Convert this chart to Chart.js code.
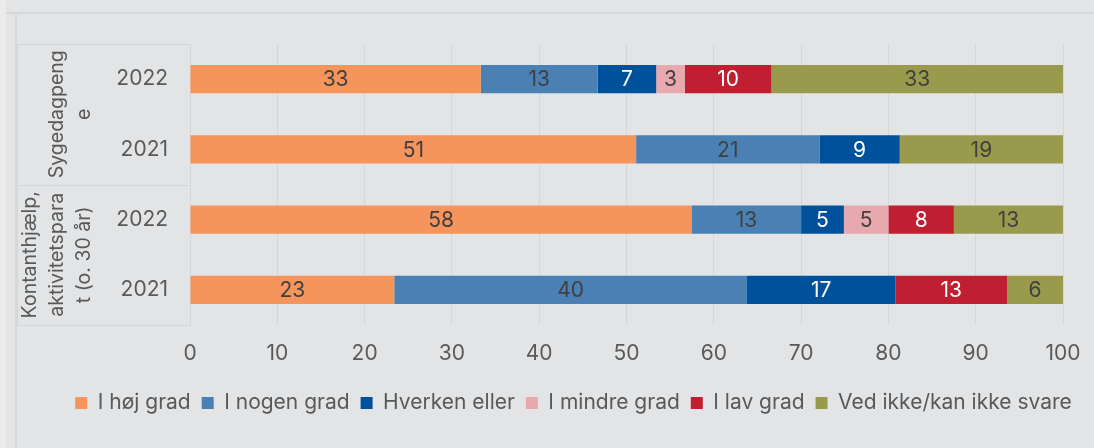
<!DOCTYPE html>
<html><head><meta charset="utf-8">
<script src="https://cdn.jsdelivr.net/npm/chart.js@4/dist/chart.umd.min.js"></script>
<style>
html,body{margin:0;padding:0;background:#e3e4e6;}
#wrap{position:relative;width:1094px;height:448px;overflow:hidden;}
canvas{position:absolute;left:0;top:0;}
</style></head><body>
<div id="wrap"><canvas id="c" width="1094" height="448"></canvas></div>
<script>
// ---- data ----
const categories = ['2022', '2021', '2022', '2021'];
const groupLabels = [['Sygedagpeng', 'e'], ['Kontanthjælp,', 'aktivitetspara', 't (o. 30 år)']];
const groupSizes = [2, 2];
const seriesNames = ['I høj grad', 'I nogen grad', 'Hverken eller', 'I mindre grad', 'I lav grad', 'Ved ikke/kan ikke svare'];
const hojGrad    = [33.3, 51.1, 57.5, 23.4];
const nogenGrad  = [13.4, 21.0, 12.5, 40.4];
const hverken    = [6.7, 9.2, 4.9, 17.0];
const mindreGrad = [3.3, null, 5.1, null];
const lavGrad    = [9.9, null, 7.5, 12.8];
const vedIkke    = [33.4, 18.7, 12.5, 6.4];
const xTicks = [0, 10, 20, 30, 40, 50, 60, 70, 80, 90, 100];

const seriesValues = [hojGrad, nogenGrad, hverken, mindreGrad, lavGrad, vedIkke];
const seriesColors = ['#F5945B', '#4A80B3', '#00519B', '#E7A8AE', '#C01F31', '#9A9A4D'];
const labelColors  = ['#404040', '#404040', '#ffffff', '#404040', '#ffffff', '#404040'];

const FONT = 'Inter';
const TXT = '#595959';
const FS = 21;
const LEGEND_CENTER_X = 573.5;

const framePlugin = {
  id: 'frame',
  beforeDraw(chart) {
    const ctx = chart.ctx;
    ctx.save();
    ctx.fillStyle = '#ebebec';
    ctx.fillRect(0, 0, 6, 448);
    ctx.fillStyle = '#d7d8da';
    ctx.fillRect(6, 12, 1088, 2);
    ctx.fillRect(15, 12, 2, 436);
    ctx.restore();
  },
  afterLayout(chart) {
    const lg = chart.legend;
    if (!lg) return;
    const d = LEGEND_CENTER_X - (lg.left + lg.right) / 2;
    lg.left += d; lg.right += d;
  }
};

const groupPlugin = {
  id: 'groups',
  afterDraw(chart) {
    const ctx = chart.ctx, y = chart.scales.y, ca = chart.chartArea;
    const step = y.getPixelForValue(1) - y.getPixelForValue(0);
    ctx.save();
    ctx.strokeStyle = '#d5d6d8';
    ctx.lineWidth = 1;
    let idx = 0;
    const left = 17.5;
    groupLabels.forEach((lines, g) => {
      const first = idx, last = idx + groupSizes[g] - 1;
      const top = y.getPixelForValue(first) - step / 2;
      const bot = y.getPixelForValue(last) + step / 2;
      ctx.beginPath();
      ctx.moveTo(left, Math.round(top) + 0.5); ctx.lineTo(ca.left, Math.round(top) + 0.5);
      ctx.moveTo(left, Math.round(bot) + 0.5); ctx.lineTo(ca.left, Math.round(bot) + 0.5);
      ctx.moveTo(left, top); ctx.lineTo(left, bot);
      ctx.stroke();
      const cy = (top + bot) / 2;
      ctx.fillStyle = TXT;
      ctx.font = '19.5px ' + FONT;
      ctx.textAlign = 'center';
      ctx.textBaseline = 'middle';
      const lastX = 84.5, lh = 27;
      lines.forEach((t, i) => {
        const x = lastX - (lines.length - 1 - i) * lh;
        ctx.save();
        ctx.translate(x, cy);
        ctx.rotate(-Math.PI / 2);
        ctx.fillText(t, 0, 0);
        ctx.restore();
      });
      idx += groupSizes[g];
    });
    ctx.restore();
  }
};

const valueLabelPlugin = {
  id: 'valueLabels',
  afterDatasetsDraw(chart) {
    const ctx = chart.ctx;
    ctx.save();
    ctx.font = FS + 'px ' + FONT;
    ctx.textAlign = 'center';
    ctx.textBaseline = 'middle';
    chart.data.datasets.forEach((ds, di) => {
      const meta = chart.getDatasetMeta(di);
      meta.data.forEach((el, i) => {
        const v = ds.data[i];
        if (v === null || v === undefined || v <= 0) return;
        ctx.fillStyle = labelColors[di];
        ctx.fillText(String(Math.round(v)), (el.x + el.base) / 2, el.y + 1);
      });
    });
    ctx.restore();
  }
};

new Chart(document.getElementById('c'), {
  type: 'bar',
  data: {
    labels: categories,
    datasets: seriesNames.map((n, i) => ({
      label: n,
      data: seriesValues[i],
      backgroundColor: seriesColors[i],
      borderWidth: 0,
      categoryPercentage: 1,
      barPercentage: 0.4
    }))
  },
  options: {
    indexAxis: 'y',
    responsive: false,
    animation: false,
    layout: { padding: { top: 44, right: 31, bottom: 24.5, left: 0 } },
    plugins: {
      tooltip: { enabled: false },
      legend: {
        position: 'bottom',
        labels: {
          boxWidth: 12, boxHeight: 12, padding: 11,
          color: TXT, font: { family: FONT, size: FS }
        }
      }
    },
    scales: {
      x: {
        stacked: true, min: 0, max: 100,
        afterBuildTicks: s => { s.ticks = xTicks.map(v => ({ value: v })); },
        grid: { color: '#d5d6d8', drawTicks: false },
        border: { display: false },
        ticks: { padding: 16, color: TXT, font: { family: FONT, size: FS } },
        afterFit: s => { s.height = 56.5; s.paddingRight = 0; s.paddingLeft = 0; }
      },
      y: {
        stacked: true,
        grid: { display: false, drawTicks: false },
        border: { display: true, color: '#d5d6d8' },
        ticks: { padding: 22, color: TXT, font: { family: FONT, size: FS } },
        afterFit: s => { s.width = 190; }
      }
    }
  },
  plugins: [framePlugin, groupPlugin, valueLabelPlugin]
});
</script>
</body></html>
